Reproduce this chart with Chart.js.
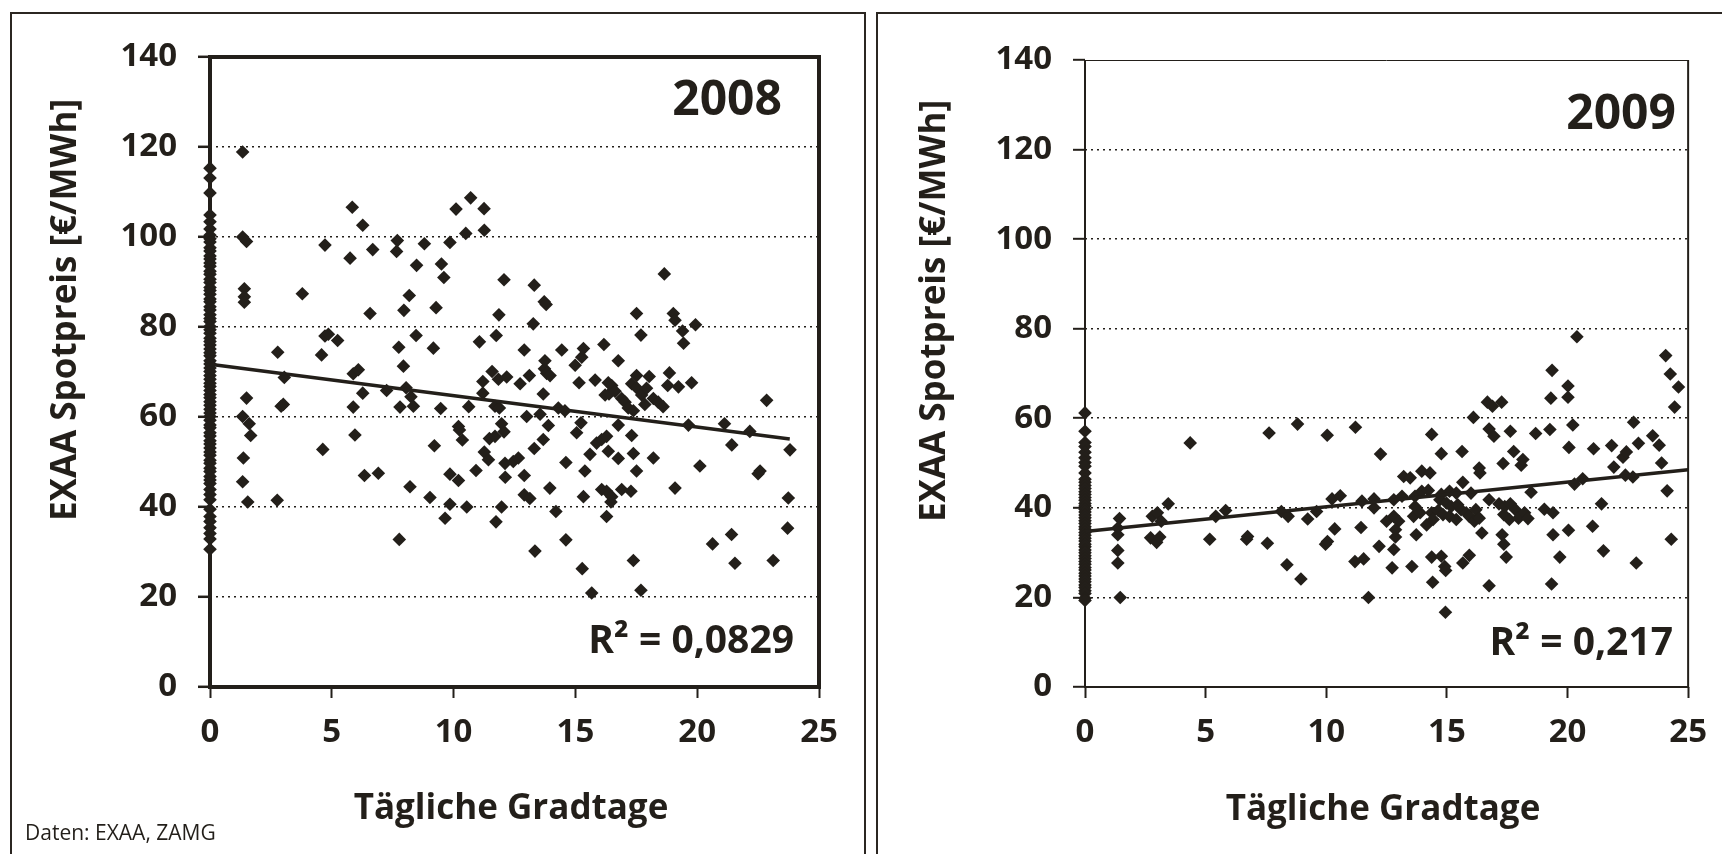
<!DOCTYPE html>
<html lang="de">
<head>
<meta charset="UTF-8">
<title>EXAA Spotpreis und Gradtage 2008 / 2009</title>
<script src="https://cdn.jsdelivr.net/npm/chart.js@4.4.1/dist/chart.umd.min.js"></script>
<style>
  * { margin: 0; padding: 0; box-sizing: border-box; }
  body { width: 1722px; height: 854px; overflow: hidden; background: #fff; position: relative; }
  .panel { position: absolute; top: 12px; height: 900px; border: 2px solid #2b2621; }
  #panel-2008 { left: 10px; width: 856px; }
  #panel-2009 { left: 876px; width: 900px; }
  canvas { position: absolute; top: 0; }
  #chart-2008 { left: 0; }
  #chart-2009 { left: 870px; }
</style>
</head>
<body>
<div class="panel" id="panel-2008"></div>
<div class="panel" id="panel-2009"></div>
<canvas id="chart-2008" width="860" height="854"></canvas>
<canvas id="chart-2009" width="852" height="854"></canvas>
<script>
const INK = "#231f1a";
const FONT = "'Open Sans', 'DejaVu Sans', sans-serif";

const yTicks = [0, 20, 40, 60, 80, 100, 120, 140];
const xTicks = [0, 5, 10, 15, 20, 25];
const yTitle = "EXAA Spotpreis [€/MWh]";
const xTitle = "Tägliche Gradtage";
const sourceText = "Daten: EXAA, ZAMG";

// 2008 - Spotpreise an Tagen ohne Gradtage (x = 0)
const nullTage2008 = [115.3, 113.1, 109.8, 104.9, 103.4, 101.8, 100.4, 99.6, 98.9, 97.6, 96.9, 95.8,
  95.1, 94.2, 93.5, 92.4, 91.7, 90.6, 89.9, 88.8, 88.1, 87.3, 86.2, 85.6, 84.5, 83.8, 82.7, 81.9,
  81.2, 80.1, 79.4, 78.6, 77.5, 76.8, 76.0, 75.1, 74.3, 73.6, 72.5, 71.8, 70.9, 70.1, 69.2, 68.4,
  67.5, 66.8, 65.9, 65.0, 64.3, 63.4, 62.6, 61.7, 60.9, 60.1, 59.3, 58.2, 57.6, 56.5, 55.8, 54.7,
  54.0, 53.1, 52.2, 51.5, 50.4, 49.7, 48.6, 47.9, 46.8, 46.0, 45.2, 43.9, 42.8, 41.6, 39.5, 37.9,
  36.8, 35.4, 34.1, 32.9, 30.6];

// 2008 - restliche Tage
const gradtage2008 = [1.34, 1.34, 1.50, 1.41, 1.41, 1.41, 1.50, 1.34, 1.61, 1.67, 1.37, 1.34, 1.55, 2.76,
  2.78, 2.92, 3.01, 3.05, 3.79, 4.58, 4.63, 4.72, 4.86, 5.24, 4.72, 5.75, 5.84, 5.88, 6.09, 5.88,
  5.95, 6.27, 6.27, 6.34, 6.57, 6.68, 6.91, 7.25, 7.66, 7.69, 7.75, 7.77, 7.80, 7.94, 7.96, 8.05,
  8.18, 8.21, 8.25, 8.35, 8.46, 8.48, 8.80, 9.03, 9.17, 9.21, 9.28, 9.47, 9.50, 9.60, 9.65, 9.85,
  9.85, 9.85, 10.10, 10.20, 10.24, 10.20, 10.36, 10.50, 10.54, 10.62, 10.70, 10.92, 11.06, 11.20,
  11.20, 11.25, 11.26, 11.26, 11.43, 11.47, 11.58, 11.70, 11.70, 11.74, 11.75, 11.84, 11.86, 11.88,
  11.97, 11.97, 12.07, 12.07, 12.11, 12.12, 12.18, 12.45, 12.66, 12.73, 12.90, 12.90, 12.90, 13.00,
  13.11, 13.13, 13.27, 13.31, 13.31, 13.34, 13.55, 13.68, 13.68, 13.72, 13.80, 13.73, 13.75, 13.82,
  13.89, 13.95, 13.96, 14.20, 14.30, 14.44, 14.57, 14.61, 14.61, 14.99, 15.05, 15.15, 15.23, 15.26,
  15.28, 15.33, 15.33, 15.39, 15.60, 15.67, 15.81, 15.87, 16.08, 16.08, 16.17, 16.22, 16.28, 16.28,
  16.28, 16.35, 16.35, 16.38, 16.46, 16.49, 16.49, 16.63, 16.76, 16.76, 16.76, 16.90, 16.90, 17.04,
  17.17, 17.28, 17.31, 17.31, 17.38, 17.38, 17.38, 17.51, 17.51, 17.51, 17.51, 17.69, 17.69, 17.72,
  17.85, 17.92, 18.03, 18.20, 18.20, 18.40, 18.60, 18.65, 18.79, 18.86, 19.02, 19.09, 19.09, 19.23,
  19.40, 19.44, 19.64, 19.77, 19.93, 20.11, 20.63, 21.12, 21.41, 21.42, 21.55, 22.16, 22.50, 22.58,
  22.85, 23.12, 23.71, 23.74, 23.81];
const preis2008 = [118.9, 100.0, 99.0, 88.5, 86.7, 85.5, 64.2, 60.1, 58.5, 55.9, 50.9, 45.6, 41.1, 41.5,
  74.4, 62.4, 62.8, 68.8, 87.4, 73.8, 52.8, 78.0, 78.4, 77.0, 98.2, 95.3, 106.6, 69.6, 70.5, 62.2,
  56.0, 65.3, 102.6, 47.0, 83.0, 97.2, 47.5, 65.9, 96.8, 99.2, 75.5, 32.8, 62.2, 71.3, 83.7, 66.5,
  87.0, 44.5, 64.5, 62.4, 78.1, 93.7, 98.5, 42.1, 75.3, 53.6, 84.3, 61.9, 94.0, 91.0, 37.5, 98.8,
  47.3, 40.6, 106.2, 57.9, 57.1, 45.9, 54.9, 100.8, 40.0, 62.3, 108.7, 48.1, 76.7, 67.9,
  65.3, 106.3, 101.5, 52.2, 50.5, 55.2, 70.1, 62.4, 55.7, 36.7, 78.1, 68.4, 82.7, 62.0,
  58.5, 40.0, 90.5, 56.7, 49.7, 46.6, 68.9, 50.1, 50.9, 67.4, 74.9, 47.0, 42.7, 60.1,
  69.2, 41.9, 80.7, 89.3, 53.0, 30.2, 60.6, 65.1, 55.0, 85.6, 85.0, 70.7, 72.5, 69.7,
  58.1, 44.2, 69.2, 39.0, 62.0, 74.9, 61.4, 49.9, 32.7, 71.5, 56.5, 67.6, 58.7, 73.3,
  26.3, 75.2, 42.3, 48.0, 51.7, 20.9, 68.2, 54.2, 55.0, 43.9, 76.1, 64.9, 55.7, 43.5,
  37.9, 67.6, 52.4, 65.1, 41.1, 67.0, 42.3, 65.7, 72.5, 58.2, 50.8, 64.1, 43.9, 63.3,
  62.0, 43.5, 67.4, 55.9, 61.4, 51.9, 28.1, 83.0, 69.2, 66.5, 48.0, 78.2, 21.5, 64.9,
  62.8, 66.4, 69.0, 64.1, 50.9, 63.3, 62.3, 91.8, 67.0, 69.8, 83.0, 81.5, 44.2, 66.7,
  79.1, 76.4, 58.2, 67.6, 80.5, 49.1, 31.8, 58.5, 33.9, 53.8, 27.5, 56.8, 47.4, 48.0,
  63.7, 28.1, 35.3, 42.0, 52.7];
const trendX2008 = [0, 23.8];
const trendY2008 = [71.7, 55.1];
const r2Text2008 = "R² = 0,0829";

// 2009 - Spotpreise an Tagen ohne Gradtage (x = 0)
const nullTage2009 = [61.2, 57.1, 54.6, 53.7, 52.4, 51.2, 50.1, 49.3, 47.8, 46.4, 45.7, 45.0, 44.3,
  43.6, 43.0, 42.3, 41.7, 41.0, 40.4, 39.7, 39.1, 38.4, 37.8, 37.1, 36.5, 35.8, 35.2, 34.5, 33.9,
  33.2, 32.6, 31.9, 31.3, 30.6, 30.0, 29.3, 28.7, 28.0, 27.4, 26.7, 26.1, 25.4, 24.8, 24.1, 23.5,
  22.8, 22.2, 21.5, 20.9, 19.8, 19.3];

// 2009 - restliche Tage
const gradtage2009 = [1.43, 1.36, 1.36, 1.36, 1.36, 1.46, 2.72, 2.79, 2.97, 3.00, 3.10, 3.16, 3.45, 4.36,
  5.17, 5.42, 5.83, 6.70, 6.74, 7.56, 7.63, 8.14, 8.37, 8.42, 8.81, 8.95, 9.23, 9.60, 9.97, 10.04,
  10.05, 10.24, 10.35, 10.58, 11.19, 11.21, 11.44, 11.48, 11.55, 11.75, 11.98, 11.98, 12.19, 12.25,
  12.50, 12.73, 12.80, 12.87, 12.80, 12.80, 13.00, 12.87, 13.14, 13.21, 13.48, 13.55, 13.62, 13.68,
  13.68, 13.73, 13.89, 13.96, 13.96, 14.16, 14.23, 14.30, 14.37, 14.37, 14.37, 14.41, 14.43, 14.64,
  14.71, 14.77, 14.77, 14.77, 14.84, 14.91, 14.94, 14.95, 14.98, 15.11, 15.11, 15.18, 15.39, 15.39,
  15.45, 15.59, 15.63, 15.66, 15.66, 15.80, 15.93, 15.93, 16.00, 16.10, 16.14, 16.20, 16.34, 16.34,
  16.37, 16.45, 16.68, 16.75, 16.75, 16.75, 16.89, 16.95, 17.16, 17.27, 17.29, 17.33, 17.36, 17.36,
  17.40, 17.46, 17.59, 17.63, 17.63, 17.77, 17.84, 17.97, 18.08, 18.15, 18.22, 18.36, 18.49, 18.68,
  19.04, 19.27, 19.31, 19.34, 19.36, 19.40, 19.40, 19.68, 20.02, 20.02, 20.04, 20.06, 20.22, 20.29,
  20.39, 20.63, 21.04, 21.08, 21.41, 21.49, 21.83, 21.92, 22.30, 22.40, 22.44, 22.71, 22.74, 22.85,
  22.94, 23.53, 23.80, 23.90, 24.07, 24.13, 24.26, 24.30, 24.44, 24.60];
const preis2009 = [37.6, 35.5, 34.0, 30.5, 27.7, 20.0, 33.3, 38.1, 32.3, 38.9, 33.5, 37.0, 40.9, 54.5,
  33.0, 38.1, 39.4, 33.0, 33.6, 32.1, 56.7, 39.2, 27.3, 38.1, 58.7, 24.1, 37.5, 39.2, 31.9, 56.2,
  32.5, 42.0, 35.3, 42.7, 28.0, 58.0, 35.6, 41.5, 28.6, 20.0, 42.0, 40.0, 31.4, 52.0,
  37.0, 26.6, 30.7, 33.5, 41.8, 38.1, 37.0, 35.1, 42.6, 47.0, 46.7, 26.9, 38.1, 42.6,
  40.3, 34.0, 38.9, 48.2, 43.7, 36.2, 43.9, 47.8, 56.4, 38.9, 29.0, 23.4, 37.4, 39.4,
  41.8, 52.1, 43.0, 29.2, 38.5, 26.9, 16.7, 26.0, 41.1, 43.7, 38.1, 40.3, 43.3, 37.4,
  40.7, 39.6, 52.6, 45.7, 27.7, 38.9, 38.1, 29.4, 43.3, 60.2, 37.0, 39.6, 48.9, 37.7,
  47.8, 34.4, 63.6, 57.6, 41.8, 22.6, 62.7, 56.0, 40.9, 63.6, 34.0, 49.9, 38.5, 31.9,
  40.3, 29.0, 37.4, 57.1, 40.9, 52.6, 39.6, 37.7, 49.5, 50.8, 38.9, 37.6, 43.5, 56.6,
  39.7, 57.5, 64.5, 23.0, 70.7, 38.9, 34.0, 29.0, 67.2, 64.7, 35.0, 53.5, 58.5, 45.3,
  78.2, 46.5, 35.9, 53.2, 40.9, 30.4, 53.9, 49.1, 51.3, 47.3, 52.5, 46.9, 59.1, 27.7,
  54.4, 56.1, 54.0, 50.0, 74.0, 43.8, 69.9, 33.0, 62.5, 67.0];
const trendX2009 = [0, 25];
const trendY2009 = [34.7, 48.5];
const r2Text2009 = "R² = 0,217";

function toPoints(xs, ys) {
  return xs.map((x, i) => ({ x: x, y: ys[i] }));
}

function buildChart(canvasId, o) {
  const points = o.nullTage.map(y => ({ x: 0, y: y })).concat(toPoints(o.gradtage, o.preis));

  const frame = {
    id: "frame",
    beforeDatasetsDraw(chart) {
      const a = chart.chartArea;
      const c = chart.ctx;
      c.save();
      c.strokeStyle = INK;
      if (o.thickFrame) {
        c.lineWidth = 4;
        c.strokeRect(a.left, a.top, a.right - a.left, a.bottom - a.top);
      } else {
        c.lineWidth = 2;
        c.beginPath();
        c.moveTo(a.left, a.top); c.lineTo(a.left, a.bottom); c.lineTo(a.right, a.bottom); c.lineTo(a.right, a.top);
        c.stroke();
        c.lineWidth = 1;
        c.beginPath();
        c.moveTo(a.left, a.top + 0.5); c.lineTo(a.right, a.top + 0.5);
        c.stroke();
      }
      c.restore();
    }
  };

  const texts = {
    id: "texts",
    afterDraw(chart) {
      const c = chart.ctx;
      c.save();
      c.fillStyle = INK;
      c.textBaseline = "alphabetic";
      c.textAlign = "right";
      c.font = "700 48px " + FONT;
      c.fillText(o.year, o.yearX, o.yearY);
      c.font = "700 39px " + FONT;
      c.fillText(o.r2, o.r2X, o.r2Y);
      c.textAlign = "center";
      c.font = "700 35px " + FONT;
      c.fillText(xTitle, o.xTitleX, o.xTitleY);
      c.save();
      c.translate(o.yTitleX, o.yTitleY);
      c.rotate(-Math.PI / 2);
      c.textBaseline = "middle";
      c.fillText(yTitle, 0, 0);
      c.restore();
      if (o.source) {
        c.textAlign = "left";
        c.font = "400 21px " + FONT;
        c.fillText(sourceText, 25, 840);
      }
      c.restore();
    }
  };

  return new Chart(document.getElementById(canvasId), {
    type: "scatter",
    data: {
      datasets: [
        {
          data: toPoints(o.trendX, o.trendY),
          showLine: true,
          borderColor: INK,
          borderWidth: 3.5,
          pointRadius: 0,
          clip: false
        },
        {
          data: points,
          pointStyle: "rectRot",
          pointRadius: 6.8,
          pointBorderWidth: 0,
          backgroundColor: INK,
          borderColor: INK,
          clip: false
        }
      ]
    },
    options: {
      responsive: false,
      animation: false,
      events: [],
      layout: { padding: o.padding },
      plugins: { legend: { display: false }, tooltip: { enabled: false } },
      scales: {
        x: {
          type: "linear",
          min: xTicks[0],
          max: xTicks[xTicks.length - 1],
          ticks: {
            stepSize: xTicks[1] - xTicks[0],
            color: INK,
            padding: 15,
            maxRotation: 0,
            font: { family: FONT, size: 33, weight: "700" }
          },
          grid: { drawOnChartArea: false, drawTicks: true, tickLength: 11, tickColor: INK, tickWidth: 2 },
          border: { display: false },
          afterFit(s) { s.height = 167; }
        },
        y: {
          type: "linear",
          min: yTicks[0],
          max: yTicks[yTicks.length - 1],
          ticks: {
            stepSize: yTicks[1] - yTicks[0],
            color: INK,
            padding: 21,
            font: { family: FONT, size: 33, weight: "700" }
          },
          grid: {
            color: ctx => (ctx.tick && (ctx.tick.value === yTicks[0] || ctx.tick.value === yTicks[yTicks.length - 1])) ? "rgba(0,0,0,0)" : INK,
            lineWidth: 1.6,
            drawTicks: true,
            tickLength: 12,
            tickColor: INK,
            tickWidth: o.thickFrame ? 2.5 : 2
          },
          border: { display: false, dash: [2, 4] },
          afterFit(s) { s.width = o.yWidth; }
        }
      }
    },
    plugins: [frame, texts]
  });
}

buildChart("chart-2008", {
  nullTage: nullTage2008, gradtage: gradtage2008, preis: preis2008,
  trendX: trendX2008, trendY: trendY2008,
  year: "2008", yearX: 782, yearY: 115,
  r2: r2Text2008, r2X: 794, r2Y: 653,
  xTitleX: 511, xTitleY: 819, yTitleX: 66, yTitleY: 310,
  source: true, thickFrame: true,
  yWidth: 210, padding: { left: 0, right: 41, top: 57, bottom: 0 }
});

buildChart("chart-2009", {
  nullTage: nullTage2009, gradtage: gradtage2009, preis: preis2009,
  trendX: trendX2009, trendY: trendY2009,
  year: "2009", yearX: 806, yearY: 129,
  r2: r2Text2009, r2X: 803, r2Y: 655,
  xTitleX: 513, xTitleY: 820, yTitleX: 65, yTitleY: 311,
  source: false, thickFrame: false,
  yWidth: 215, padding: { left: 0, right: 25, top: 60, bottom: 0 }
});
</script>
</body>
</html>
